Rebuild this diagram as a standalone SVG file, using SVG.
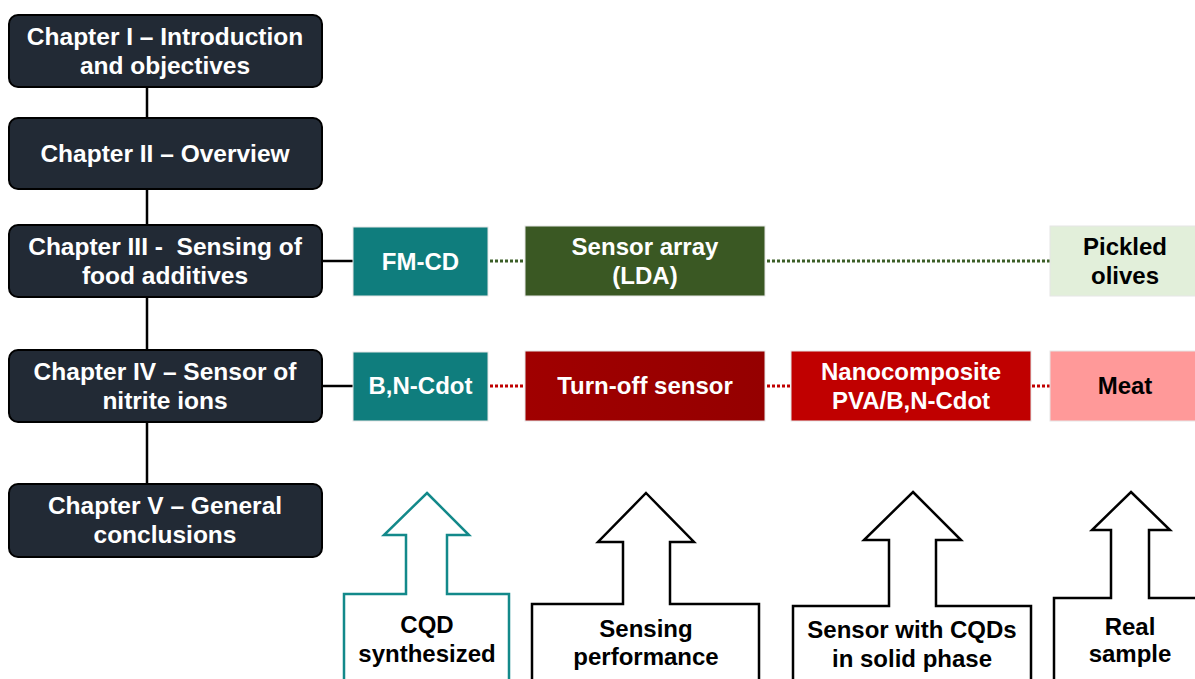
<svg xmlns="http://www.w3.org/2000/svg" width="1195" height="679" viewBox="0 0 1195 679">
  <style>
    text { font-family: "Liberation Sans", Arial, sans-serif; font-weight: bold; font-size: 24px; text-anchor: middle; }
    .chap { fill: #222a35; stroke: #000; stroke-width: 2; }
    .chapText { font-size: 24.5px; }
    .light { fill: #ffffff; }
    .dark { fill: #000000; }
    .box { stroke: #e6e6e6; stroke-width: 1; }
    .link { stroke: #000; stroke-width: 2.5; fill: none; }
    .dotG { stroke: #3b5e27; stroke-width: 3; stroke-dasharray: 3 2; fill: none; }
    .dotR { stroke: #c00000; stroke-width: 3; stroke-dasharray: 3 2; fill: none; }
    .arrow { fill: #fff; stroke: #000; stroke-width: 2.5; stroke-linejoin: miter; }
    .arrowT { fill: #fff; stroke: #13898a; stroke-width: 2.5; stroke-linejoin: miter; }
  </style>
  <defs>
    <linearGradient id="redGrad" x1="0" y1="0" x2="1" y2="0">
      <stop offset="0" stop-color="#a00000"/>
      <stop offset="1" stop-color="#950000"/>
    </linearGradient>
  </defs>
  <rect width="1195" height="679" fill="#ffffff"/>

  <!-- connectors -->
  <g id="connectors">
    <line class="link" x1="147" y1="86" x2="147" y2="484"/>
    <line class="link" x1="322" y1="261" x2="353" y2="261"/>
    <line class="link" x1="322" y1="386" x2="353" y2="386"/>
    <line class="dotG" x1="490" y1="261" x2="525" y2="261"/>
    <line class="dotG" x1="767" y1="261" x2="1050" y2="261"/>
    <line class="dotR" x1="490" y1="386" x2="525" y2="386"/>
    <line class="dotR" x1="767" y1="386" x2="791" y2="386"/>
    <line class="dotR" x1="1032" y1="386" x2="1050" y2="386"/>
  </g>

  <!-- chapters -->
  <g id="ch1">
    <rect class="chap" x="9" y="15" width="313" height="72" rx="9"/>
    <text class="light chapText" x="165" y="45">Chapter I – Introduction</text>
    <text class="light chapText" x="165" y="74">and objectives</text>
  </g>
  <g id="ch2">
    <rect class="chap" x="9" y="118" width="313" height="71" rx="9"/>
    <text class="light chapText" x="165" y="162">Chapter II – Overview</text>
  </g>
  <g id="ch3">
    <rect class="chap" x="9" y="225" width="313" height="72" rx="9"/>
    <text class="light chapText" x="165" y="255" xml:space="preserve">Chapter III -  Sensing of</text>
    <text class="light chapText" x="165" y="284">food additives</text>
  </g>
  <g id="ch4">
    <rect class="chap" x="9" y="350" width="313" height="72" rx="9"/>
    <text class="light chapText" x="165" y="380">Chapter IV – Sensor of</text>
    <text class="light chapText" x="165" y="409">nitrite ions</text>
  </g>
  <g id="ch5">
    <rect class="chap" x="9" y="484" width="313" height="73" rx="9"/>
    <text class="light chapText" x="165" y="514">Chapter V – General</text>
    <text class="light chapText" x="165" y="543">conclusions</text>
  </g>

  <!-- food additives row -->
  <g id="fmcd">
    <rect class="box" x="353" y="227" width="135" height="69" fill="#0f7d7d"/>
    <text class="light" x="420.5" y="270">FM-CD</text>
  </g>
  <g id="sensor-array">
    <rect class="box" x="525" y="226" width="240" height="70" fill="#3a5823"/>
    <text class="light" x="645" y="255">Sensor array</text>
    <text class="light" x="645" y="284">(LDA)</text>
  </g>
  <g id="olives">
    <rect class="box" x="1050" y="226" width="150" height="70" fill="#e2efda"/>
    <text class="dark" x="1125" y="255">Pickled</text>
    <text class="dark" x="1125" y="284">olives</text>
  </g>

  <!-- nitrite row -->
  <g id="bncdot">
    <rect class="box" x="353" y="352" width="135" height="69" fill="#0f7d7d"/>
    <text class="light" x="420.5" y="394">B,N-Cdot</text>
  </g>
  <g id="turnoff">
    <rect class="box" x="525" y="351" width="240" height="70" fill="url(#redGrad)"/>
    <text class="light" x="645" y="394">Turn-off sensor</text>
  </g>
  <g id="nanocomposite">
    <rect class="box" x="791" y="351" width="240" height="70" fill="#c00000"/>
    <text class="light" x="911" y="380">Nanocomposite</text>
    <text class="light" x="911" y="409">PVA/B,N-Cdot</text>
  </g>
  <g id="meat">
    <rect class="box" x="1050" y="351" width="150" height="70" fill="#ff9999"/>
    <text class="dark" x="1125" y="394">Meat</text>
  </g>

  <!-- block arrows -->
  <g id="arrow-cqd">
    <path class="arrowT" d="M427 493 L469 535 L447 535 L447 594 L509 594 L509 690 L344 690 L344 594 L406 594 L406 535 L384 535 Z"/>
    <text class="dark" x="427" y="633">CQD</text>
    <text class="dark" x="427" y="662">synthesized</text>
  </g>
  <g id="arrow-sensing">
    <path class="arrow" d="M646 493 L694 542 L670 542 L670 604 L759 604 L759 690 L532 690 L532 604 L623 604 L623 542 L598 542 Z"/>
    <text class="dark" x="646" y="637">Sensing</text>
    <text class="dark" x="646" y="665">performance</text>
  </g>
  <g id="arrow-solid">
    <path class="arrow" d="M913 492 L961 540 L936 540 L936 606 L1031 606 L1031 690 L793 690 L793 606 L889 606 L889 540 L864 540 Z"/>
    <text class="dark" x="912" y="638">Sensor with CQDs</text>
    <text class="dark" x="912" y="667">in solid phase</text>
  </g>
  <g id="arrow-real">
    <path class="arrow" d="M1131 492 L1170 530 L1149 530 L1149 598 L1207 598 L1207 690 L1054 690 L1054 598 L1111 598 L1111 530 L1092 530 Z"/>
    <text class="dark" x="1130" y="635">Real</text>
    <text class="dark" x="1130" y="662">sample</text>
  </g>
</svg>
